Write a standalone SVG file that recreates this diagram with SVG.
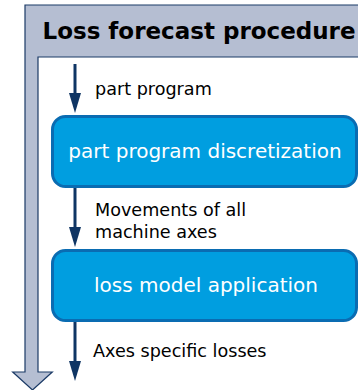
<svg xmlns="http://www.w3.org/2000/svg" width="358" height="390" viewBox="0 0 358 390">
  <style>
    .frame { fill: #b5bed2; stroke: #1b3a66; stroke-width: 1.2; stroke-linejoin: miter; }
    .title { font-family: "DejaVu Sans", sans-serif; font-weight: bold; font-size: 23px; fill: #000; }
    .box { fill: #009ee0; stroke: #0a6cb2; stroke-width: 3; }
    .boxText { font-family: "DejaVu Sans", sans-serif; font-size: 20px; fill: #ffffff; text-anchor: middle; }
    .label { font-family: "DejaVu Sans", sans-serif; font-size: 17.6px; fill: #000; }
    .flow { stroke: #0f3564; stroke-width: 3; fill: none; marker-end: url(#head); }
  </style>
  <defs>
    <marker id="head" viewBox="0 0 20 12" refX="10" refY="6" markerWidth="20" markerHeight="12" markerUnits="userSpaceOnUse" orient="auto">
      <path d="M0,0 L20,6 L0,12 z" fill="#0f3564"/>
    </marker>
  </defs>

  <!-- procedure frame: header bar with a downward arrow along the left side -->
  <g id="frame">
    <polygon class="frame" points="25,5 360,5 360,57 38,57 38,372 52.3,372 32.5,390 12.7,372 25,372"/>
    <text class="title" x="42.5" y="39">Loss forecast procedure</text>
  </g>

  <g id="discretization">
    <rect class="box" x="52.5" y="116.5" width="304" height="70" rx="13" ry="13"/>
    <text class="boxText" x="205" y="158">part program discretization</text>
  </g>

  <g id="loss-model">
    <rect class="box" x="52.5" y="250.5" width="304" height="70" rx="13" ry="13"/>
    <text class="boxText" x="206" y="292">loss model application</text>
  </g>

  <g id="connectors">
    <line class="flow" x1="75" y1="64" x2="75" y2="103"/>
    <line class="flow" x1="75" y1="188" x2="75" y2="237"/>
    <line class="flow" x1="75" y1="322" x2="75" y2="371"/>
    <text class="label" x="95" y="95">part program</text>
    <text class="label" x="95" y="216">Movements of all</text>
    <text class="label" x="95" y="238">machine axes</text>
    <text class="label" x="93" y="357">Axes specific losses</text>
  </g>
</svg>
